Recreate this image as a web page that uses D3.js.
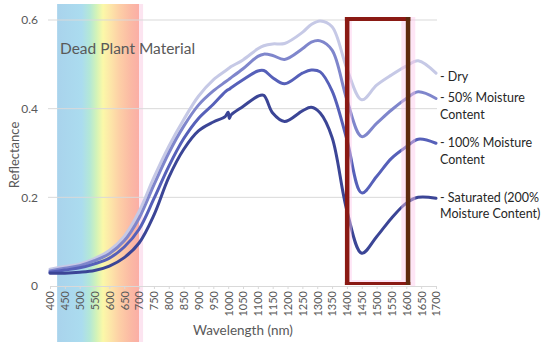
<!DOCTYPE html>
<html><head><meta charset="utf-8">
<script src="https://cdn.jsdelivr.net/npm/d3@7"></script>
<style>body{margin:0;background:#fff}svg{display:block;font-family:Lato,"Open Sans",sans-serif}</style>
</head><body><svg id="c" width="550" height="346"></svg>
<script>
const wavelengths = [400,450,500,550,600,650,700,750,800,850,900,950,990,1000,1004,1010,1050,1100,1120,1150,1190,1250,1280,1310,1350,1400,1450,1500,1550,1600,1640,1700];
const dry        = [0.038,0.044,0.05,0.062,0.08,0.112,0.168,0.245,0.315,0.375,0.428,0.465,0.485,0.49,0.492,0.495,0.51,0.535,0.542,0.546,0.547,0.572,0.59,0.598,0.585,0.49,0.42,0.453,0.476,0.496,0.508,0.48];
const m50        = [0.034,0.04,0.046,0.057,0.073,0.102,0.153,0.228,0.3,0.36,0.408,0.44,0.46,0.465,0.467,0.47,0.49,0.518,0.523,0.52,0.511,0.535,0.55,0.553,0.532,0.42,0.337,0.367,0.397,0.423,0.438,0.423];
const m100       = [0.031,0.036,0.041,0.05,0.063,0.088,0.128,0.197,0.27,0.332,0.378,0.41,0.438,0.443,0.444,0.447,0.465,0.485,0.486,0.47,0.456,0.48,0.487,0.483,0.44,0.33,0.21,0.247,0.288,0.314,0.331,0.322];
const saturated  = [0.029,0.029,0.031,0.035,0.045,0.064,0.097,0.16,0.245,0.308,0.35,0.37,0.382,0.392,0.378,0.386,0.405,0.428,0.43,0.39,0.371,0.395,0.403,0.39,0.335,0.17,0.074,0.111,0.153,0.187,0.2,0.198];
const seriesNames = ["Dry","50% Moisture Content","100% Moisture Content","Saturated (200% Moisture Content)"];
const legendLines = [["- Dry"],["- 50% Moisture","Content"],["- 100% Moisture","Content"],["- Saturated (200%","Moisture Content)"]];
const colors = ["#c6c9e6","#7f86cc","#5660b9","#3b4596"];
const xTicks = d3.range(400,1701,50);
const yTicks = [0,0.2,0.4,0.6];
const annotation = "Dead Plant Material";

const svg = d3.select("#c");
const x = d3.scaleLinear().domain([400,1700]).range([50,436]);
const y = d3.scaleLinear().domain([0,0.6]).range([286,20]);

// spectrum band
const defs = svg.append("defs");
const g = defs.append("linearGradient").attr("id","spec").attr("x1","0").attr("x2","1").attr("y1","0").attr("y2","0");
[[0,"#a9d3ec"],[0.3,"#abdcef"],[0.4,"#b4e8d6"],[0.48,"#d3f3b8"],[0.56,"#fbf8a8"],[0.66,"#fde4a8"],[0.76,"#fdcfa6"],[0.9,"#fbb9a4"],[1,"#fbaea6"]]
  .forEach(([o,c])=>g.append("stop").attr("offset",o).attr("stop-color",c));
svg.append("rect").attr("x",x(424)).attr("y",4).attr("width",x(700)-x(424)).attr("height",338).attr("fill","url(#spec)");
svg.append("rect").attr("x",x(700)).attr("y",4).attr("width",4).attr("height",338).attr("fill","#fce4f0");

// gridlines
svg.append("g").selectAll("line").data(yTicks.filter(d=>d>0)).join("line")
  .attr("x1",48).attr("x2",437).attr("y1",d=>y(d)).attr("y2",d=>y(d))
  .attr("stroke","#d9d9d9").attr("stroke-width",1);

// axes
const xa = svg.append("g").attr("transform",`translate(0,${y(0)})`)
  .call(d3.axisBottom(x).tickValues(xTicks).tickSize(3).tickFormat(d3.format("d")));
xa.select(".domain").attr("stroke","#d9d9d9");
xa.selectAll(".tick line").attr("stroke","#d9d9d9");
xa.selectAll("text").attr("transform","rotate(-90)").attr("x",-5).attr("y",0).attr("dy","0.35em")
  .attr("text-anchor","end").attr("fill","#595959").style("font-size","11px").style("font-family","Lato");
const ya = svg.append("g").attr("transform",`translate(48,0)`)
  .call(d3.axisLeft(y).tickValues(yTicks).tickSize(0).tickPadding(10).tickFormat(d=>d===0?"0":d3.format(".1f")(d)));
ya.select(".domain").remove();
ya.selectAll("text").attr("fill","#595959").style("font-size","12px").style("font-family","Lato");

// lines
const all = [dry,m50,m100,saturated];
const line = d3.line().x((d,i)=>x(wavelengths[i])).y(d=>y(d)).curve(d3.curveCatmullRom.alpha(0.5));
svg.append("g").selectAll("path").data(all).join("path")
  .attr("d",d=>line(d)).attr("fill","none").attr("stroke",(d,i)=>colors[i]).attr("stroke-width",3)
  .attr("stroke-linejoin","round").attr("stroke-linecap","round");

// highlight box (1400-1600)
const bx0 = x(1400)-2, bx1 = x(1600)+4;
const pink = "rgba(252,200,236,0.45)";
const bg = svg.append("g");
bg.append("rect").attr("x",bx0+4).attr("y",21).attr("width",3).attr("height",259).attr("fill",pink);
bg.append("rect").attr("x",bx1-9).attr("y",21).attr("width",5).attr("height",259).attr("fill",pink);
bg.append("rect").attr("x",bx1).attr("y",17).attr("width",5).attr("height",269).attr("fill",pink);
bg.append("rect").attr("x",bx0+4).attr("y",280).attr("width",bx1-bx0-8).attr("height",3).attr("fill",pink);
bg.append("rect").attr("x",bx0).attr("y",17).attr("width",bx1-bx0).attr("height",4).attr("fill","#8a1a14");
bg.append("rect").attr("x",bx0).attr("y",282).attr("width",bx1-bx0).attr("height",3).attr("fill","#8a1a14");
bg.append("rect").attr("x",bx0).attr("y",17).attr("width",4.5).attr("height",268).attr("fill","#8a1a14");
bg.append("rect").attr("x",bx1-4.5).attr("y",17).attr("width",4.5).attr("height",268).attr("fill","#5e2a0e");

// annotation
svg.append("text").attr("x",60).attr("y",54).text(annotation)
  .attr("fill","#595959").style("font-size","15.5px");

// legend labels at line ends
const ly = [[81],[102,119],[147,164],[202,218]];
legendLines.forEach((ls,i)=>{
  ls.forEach((t,j)=>svg.append("text").attr("x",440).attr("y",ly[i][j]).text(t)
    .attr("fill","#262626").style("font-size","12.5px"));
});

// axis titles
svg.append("text").attr("transform","translate(19,155) rotate(-90)").attr("text-anchor","middle")
  .text("Reflectance").attr("fill","#595959").style("font-size","13px");
svg.append("text").attr("x",243).attr("y",335).attr("text-anchor","middle")
  .text("Wavelength (nm)").attr("fill","#595959").style("font-size","13.5px");
</script></body></html>
